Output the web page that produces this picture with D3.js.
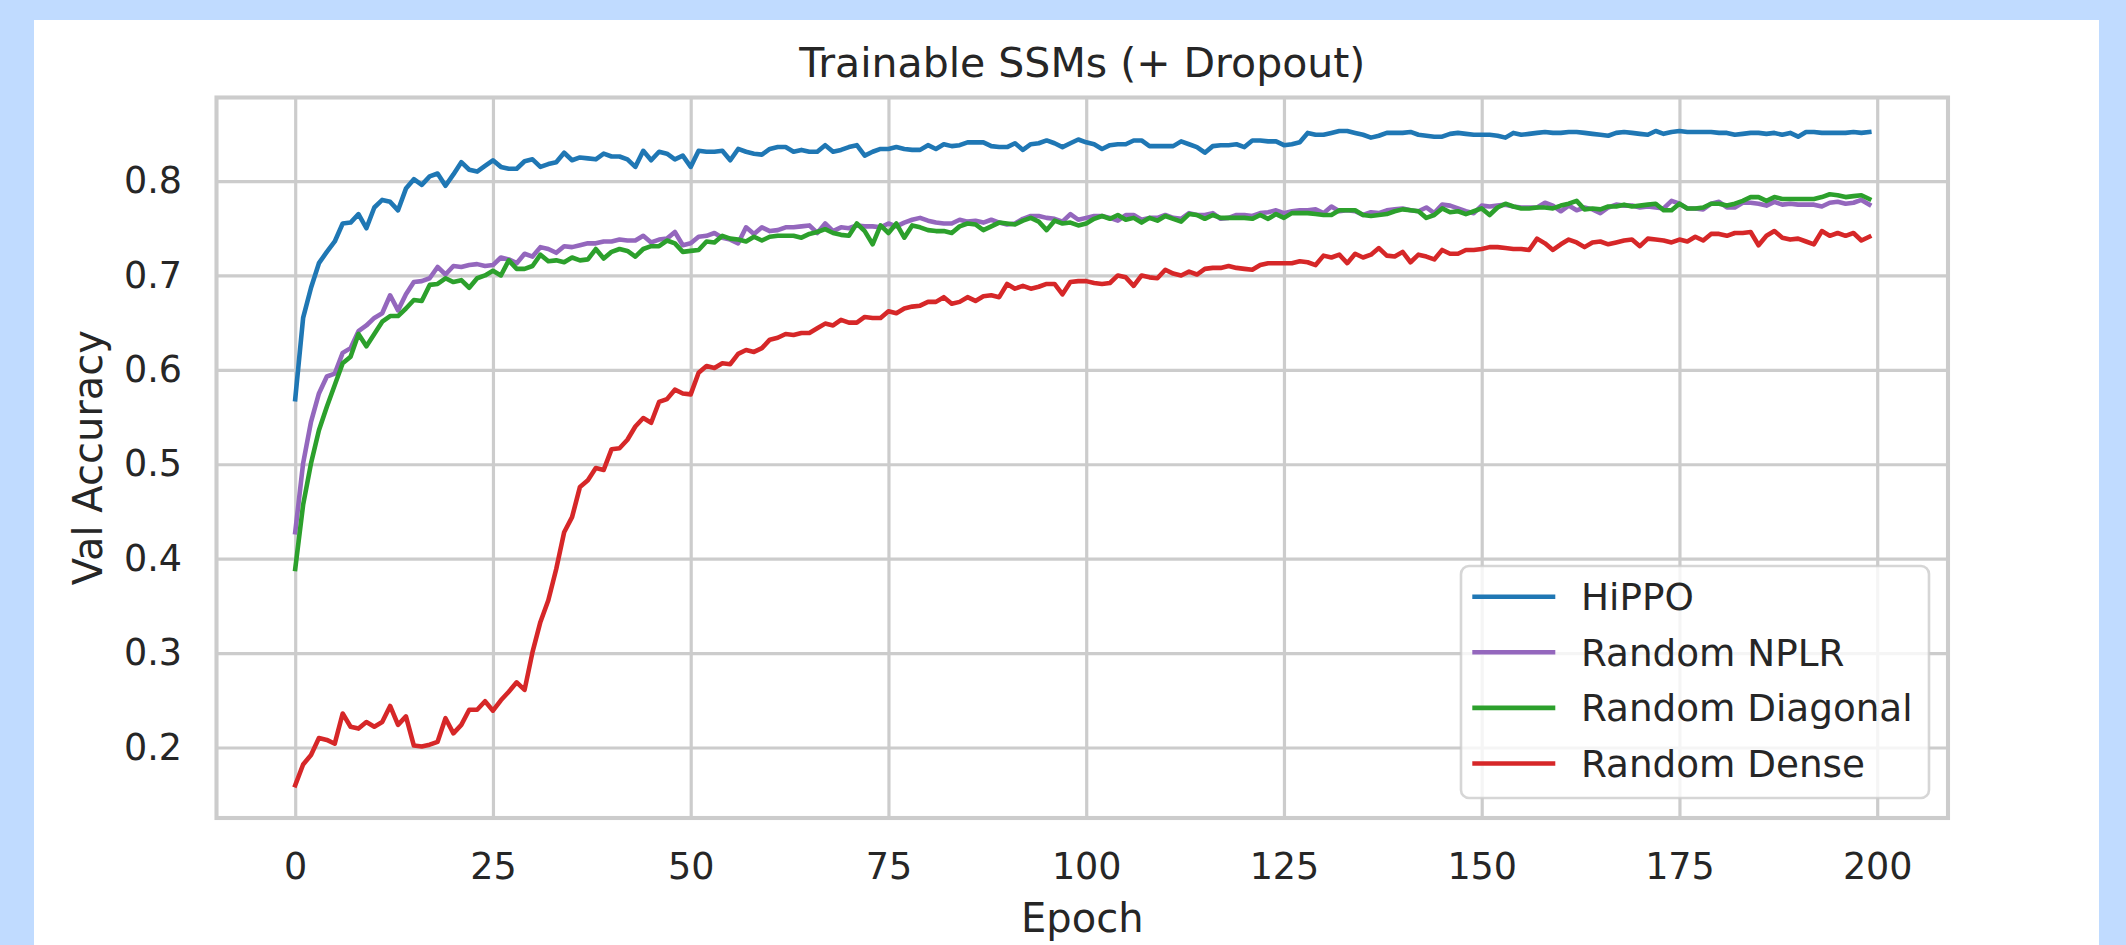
<!DOCTYPE html>
<html><head><meta charset="utf-8">
<script src="https://cdn.jsdelivr.net/npm/d3@7"></script>
<style>
html,body{margin:0;padding:0;background:#c0dbff;}
svg{display:block;}
text{font-family:"DejaVu Sans",sans-serif;fill:#262626;}
</style></head><body>
<svg id="chart" width="2126" height="945"></svg>
<script>
// ---- data ----
const seriesNames = ["HiPPO", "Random NPLR", "Random Diagonal", "Random Dense"];
const seriesColors = ["#1f77b4", "#9467bd", "#2ca02c", "#d62728"];
const xTicks = [0, 25, 50, 75, 100, 125, 150, 175, 200];
const yTicks = [0.2, 0.3, 0.4, 0.5, 0.6, 0.7, 0.8];
const titleText = "Trainable SSMs (+ Dropout)";
const xLabel = "Epoch";
const yLabel = "Val Accuracy";

const hippo = [
0.569,0.655,0.687,0.713,0.725,0.736,0.755,0.756,0.765,0.750,
0.772,0.780,0.778,0.769,0.792,0.802,0.796,0.805,0.808,0.795,
0.807,0.820,0.812,0.810,0.816,0.822,0.815,0.813,0.813,0.821,
0.823,0.815,0.818,0.820,0.830,0.822,0.825,0.824,0.823,0.829,
0.826,0.826,0.823,0.815,0.832,0.822,0.831,0.829,0.823,0.827,
0.815,0.832,0.831,0.831,0.832,0.822,0.834,0.831,0.829,0.828,
0.834,0.836,0.836,0.831,0.833,0.831,0.831,0.838,0.831,0.833,
0.836,0.838,0.827,0.831,0.834,0.834,0.836,0.834,0.833,0.833,
0.838,0.834,0.839,0.837,0.838,0.841,0.841,0.841,0.837,0.836,
0.836,0.840,0.833,0.839,0.840,0.843,0.840,0.836,0.840,0.844,
0.841,0.839,0.834,0.838,0.839,0.839,0.843,0.843,0.837,0.837,
0.837,0.837,0.842,0.839,0.836,0.830,0.837,0.838,0.838,0.839,
0.836,0.843,0.843,0.842,0.842,0.838,0.839,0.841,0.851,0.849,
0.849,0.851,0.853,0.853,0.851,0.849,0.846,0.848,0.851,0.851,
0.851,0.852,0.849,0.848,0.847,0.847,0.850,0.851,0.850,0.849,
0.849,0.849,0.848,0.846,0.851,0.849,0.850,0.851,0.852,0.851,
0.851,0.852,0.852,0.851,0.850,0.849,0.848,0.851,0.852,0.851,
0.850,0.849,0.853,0.850,0.852,0.853,0.852,0.852,0.852,0.852,
0.851,0.851,0.849,0.850,0.851,0.851,0.850,0.851,0.849,0.851,
0.847,0.852,0.852,0.851,0.851,0.851,0.851,0.852,0.851,0.852];

const nplr = [
0.428,0.501,0.545,0.575,0.593,0.596,0.618,0.623,0.641,0.647,
0.655,0.660,0.679,0.663,0.680,0.693,0.694,0.697,0.709,0.701,
0.710,0.709,0.711,0.712,0.710,0.711,0.719,0.717,0.713,0.723,
0.720,0.730,0.728,0.724,0.731,0.730,0.732,0.734,0.734,0.736,
0.736,0.738,0.737,0.737,0.742,0.735,0.738,0.739,0.746,0.732,
0.734,0.741,0.742,0.745,0.740,0.738,0.734,0.751,0.744,0.751,
0.747,0.748,0.751,0.751,0.752,0.753,0.745,0.755,0.747,0.751,
0.750,0.753,0.752,0.752,0.751,0.755,0.752,0.756,0.759,0.761,
0.758,0.756,0.755,0.755,0.759,0.757,0.758,0.756,0.759,0.756,
0.754,0.755,0.760,0.763,0.763,0.761,0.760,0.757,0.765,0.759,
0.761,0.763,0.763,0.761,0.758,0.764,0.764,0.759,0.761,0.761,
0.764,0.761,0.760,0.766,0.764,0.764,0.766,0.760,0.761,0.764,
0.764,0.763,0.766,0.767,0.769,0.766,0.768,0.769,0.769,0.770,
0.766,0.773,0.768,0.769,0.768,0.764,0.767,0.766,0.769,0.770,
0.771,0.769,0.768,0.772,0.766,0.775,0.774,0.771,0.768,0.766,
0.774,0.773,0.774,0.775,0.773,0.772,0.772,0.772,0.777,0.774,
0.768,0.774,0.769,0.772,0.770,0.766,0.772,0.775,0.774,0.774,
0.772,0.773,0.772,0.771,0.779,0.776,0.771,0.771,0.770,0.776,
0.778,0.772,0.772,0.777,0.777,0.776,0.774,0.778,0.775,0.776,
0.775,0.775,0.775,0.773,0.777,0.778,0.776,0.777,0.780,0.775];

const diagonal = [
0.389,0.457,0.501,0.536,0.561,0.584,0.607,0.614,0.638,0.625,
0.638,0.651,0.657,0.657,0.665,0.674,0.673,0.690,0.691,0.697,
0.693,0.695,0.687,0.697,0.700,0.705,0.700,0.716,0.707,0.707,
0.710,0.722,0.715,0.716,0.714,0.719,0.716,0.717,0.728,0.718,
0.725,0.728,0.726,0.720,0.728,0.731,0.731,0.737,0.734,0.725,
0.726,0.727,0.736,0.735,0.742,0.739,0.738,0.736,0.741,0.737,
0.741,0.742,0.742,0.742,0.740,0.744,0.746,0.749,0.745,0.743,
0.742,0.755,0.747,0.733,0.753,0.745,0.755,0.740,0.753,0.751,
0.748,0.747,0.747,0.745,0.752,0.755,0.754,0.748,0.752,0.756,
0.755,0.754,0.758,0.761,0.757,0.748,0.758,0.755,0.756,0.753,
0.755,0.760,0.763,0.760,0.764,0.759,0.761,0.756,0.761,0.758,
0.763,0.760,0.757,0.765,0.764,0.760,0.764,0.761,0.761,0.761,
0.761,0.760,0.764,0.760,0.765,0.761,0.766,0.766,0.766,0.765,
0.764,0.764,0.769,0.769,0.769,0.764,0.763,0.764,0.765,0.768,
0.770,0.769,0.768,0.761,0.764,0.771,0.767,0.768,0.765,0.768,
0.771,0.764,0.772,0.776,0.773,0.771,0.771,0.772,0.772,0.771,
0.774,0.776,0.779,0.770,0.771,0.770,0.773,0.773,0.775,0.773,
0.774,0.775,0.776,0.769,0.769,0.776,0.771,0.771,0.772,0.776,
0.776,0.774,0.776,0.779,0.783,0.783,0.779,0.783,0.781,0.781,
0.781,0.781,0.781,0.783,0.786,0.785,0.783,0.784,0.785,0.781];

const dense = [
0.160,0.182,0.192,0.210,0.208,0.204,0.236,0.222,0.220,0.227,
0.222,0.227,0.244,0.224,0.233,0.202,0.201,0.203,0.206,0.231,
0.215,0.224,0.240,0.240,0.249,0.239,0.250,0.259,0.269,0.261,
0.301,0.333,0.356,0.389,0.428,0.444,0.476,0.483,0.496,0.494,
0.516,0.517,0.526,0.540,0.549,0.544,0.566,0.569,0.579,0.575,
0.574,0.597,0.604,0.602,0.607,0.606,0.617,0.621,0.619,0.623,
0.632,0.634,0.638,0.637,0.639,0.639,0.644,0.649,0.647,0.653,
0.650,0.650,0.656,0.655,0.655,0.662,0.660,0.665,0.667,0.668,
0.672,0.672,0.677,0.670,0.672,0.677,0.673,0.678,0.679,0.677,
0.691,0.686,0.689,0.686,0.688,0.691,0.691,0.680,0.693,0.694,
0.694,0.692,0.691,0.692,0.700,0.698,0.689,0.700,0.698,0.697,
0.706,0.702,0.700,0.704,0.701,0.707,0.708,0.708,0.710,0.708,
0.707,0.706,0.711,0.713,0.713,0.713,0.713,0.715,0.714,0.711,
0.721,0.719,0.722,0.713,0.723,0.719,0.722,0.729,0.721,0.720,
0.725,0.714,0.722,0.720,0.717,0.727,0.723,0.723,0.727,0.727,
0.728,0.730,0.730,0.729,0.728,0.728,0.727,0.739,0.734,0.727,
0.733,0.738,0.735,0.730,0.735,0.736,0.733,0.735,0.737,0.738,
0.731,0.739,0.738,0.737,0.735,0.738,0.736,0.741,0.737,0.744,
0.744,0.742,0.745,0.745,0.746,0.732,0.742,0.747,0.740,0.738,
0.739,0.736,0.733,0.747,0.742,0.745,0.742,0.745,0.737,0.741];

const seriesValues = [hippo, nplr, diagonal, dense];

// ---- layout ----
const W = 2126, H = 945;
const P = {left: 216.5, right: 1948, top: 97.5, bottom: 818};
const svg = d3.select("#chart");

svg.append("rect").attr("x", 34).attr("y", 20).attr("width", 2065).attr("height", H - 20).attr("fill", "#ffffff");

const x = d3.scaleLinear().domain([-9.95, 208.95]).range([P.left, P.right]);
const y = d3.scaleLinear().domain([0.1253, 0.8885]).range([P.bottom, P.top]);

const gridColor = "#cccccc";

// grid
const gx = svg.append("g").attr("transform", `translate(0,${P.bottom})`)
  .call(d3.axisBottom(x).tickValues(xTicks).tickSize(-(P.bottom - P.top)).tickFormat(""));
gx.select(".domain").remove();
gx.selectAll("line").attr("stroke", gridColor).attr("stroke-width", 3.2);

const gy = svg.append("g").attr("transform", `translate(${P.left},0)`)
  .call(d3.axisLeft(y).tickValues(yTicks).tickSize(-(P.right - P.left)).tickFormat(""));
gy.select(".domain").remove();
gy.selectAll("line").attr("stroke", gridColor).attr("stroke-width", 3.2);

// tick labels
const ax = svg.append("g").attr("transform", `translate(0,${P.bottom})`)
  .call(d3.axisBottom(x).tickValues(xTicks).tickSize(0).tickPadding(35).tickFormat(d3.format("d")));
ax.select(".domain").remove();
ax.selectAll("text").attr("font-size", 36.5).attr("font-family", "DejaVu Sans").attr("fill", "#262626");

const ay = svg.append("g").attr("transform", `translate(${P.left},0)`)
  .call(d3.axisLeft(y).tickValues(yTicks).tickSize(0).tickPadding(34.5).tickFormat(d3.format(".1f")));
ay.select(".domain").remove();
ay.selectAll("text").attr("font-size", 36.5).attr("font-family", "DejaVu Sans").attr("fill", "#262626");

// lines
svg.append("clipPath").attr("id", "clip").append("rect")
  .attr("x", P.left).attr("y", P.top).attr("width", P.right - P.left).attr("height", P.bottom - P.top);

const line = d3.line().x((d, i) => x(i)).y(d => y(d));
const lg = svg.append("g").attr("clip-path", "url(#clip)");
seriesValues.forEach((vals, k) => {
  lg.append("path").datum(vals)
    .attr("d", line)
    .attr("fill", "none")
    .attr("stroke", seriesColors[k])
    .attr("stroke-width", 4.6)
    .attr("stroke-linejoin", "round")
    .attr("stroke-linecap", "square");
});

// frame
svg.append("rect").attr("x", P.left).attr("y", P.top)
  .attr("width", P.right - P.left).attr("height", P.bottom - P.top)
  .attr("fill", "none").attr("stroke", gridColor).attr("stroke-width", 4.1);

// title & labels
svg.append("text").attr("x", (P.left + P.right) / 2).attr("y", 77)
  .attr("text-anchor", "middle").attr("font-size", 41).text(titleText);
svg.append("text").attr("x", (P.left + P.right) / 2).attr("y", 932)
  .attr("text-anchor", "middle").attr("font-size", 40).text(xLabel);
svg.append("text").attr("transform", `translate(102,${(P.top + P.bottom) / 2}) rotate(-90)`)
  .attr("text-anchor", "middle").attr("font-size", 40).text(yLabel);

// legend
const leg = svg.append("g");
leg.append("rect").attr("x", 1461).attr("y", 566).attr("width", 468).attr("height", 232)
  .attr("rx", 8).attr("ry", 8)
  .attr("fill", "#ffffff").attr("fill-opacity", 0.8)
  .attr("stroke", "#cccccc").attr("stroke-opacity", 0.8).attr("stroke-width", 2.6);
seriesNames.forEach((name, k) => {
  const ly = 596.7 + k * 55.6;
  leg.append("line").attr("x1", 1474.6).attr("x2", 1553).attr("y1", ly).attr("y2", ly)
    .attr("stroke", seriesColors[k]).attr("stroke-width", 4.6).attr("stroke-linecap", "square");
  leg.append("text").attr("x", 1581).attr("y", ly + 13.3).attr("font-size", 37.3).text(name);
});
</script>
</body></html>
